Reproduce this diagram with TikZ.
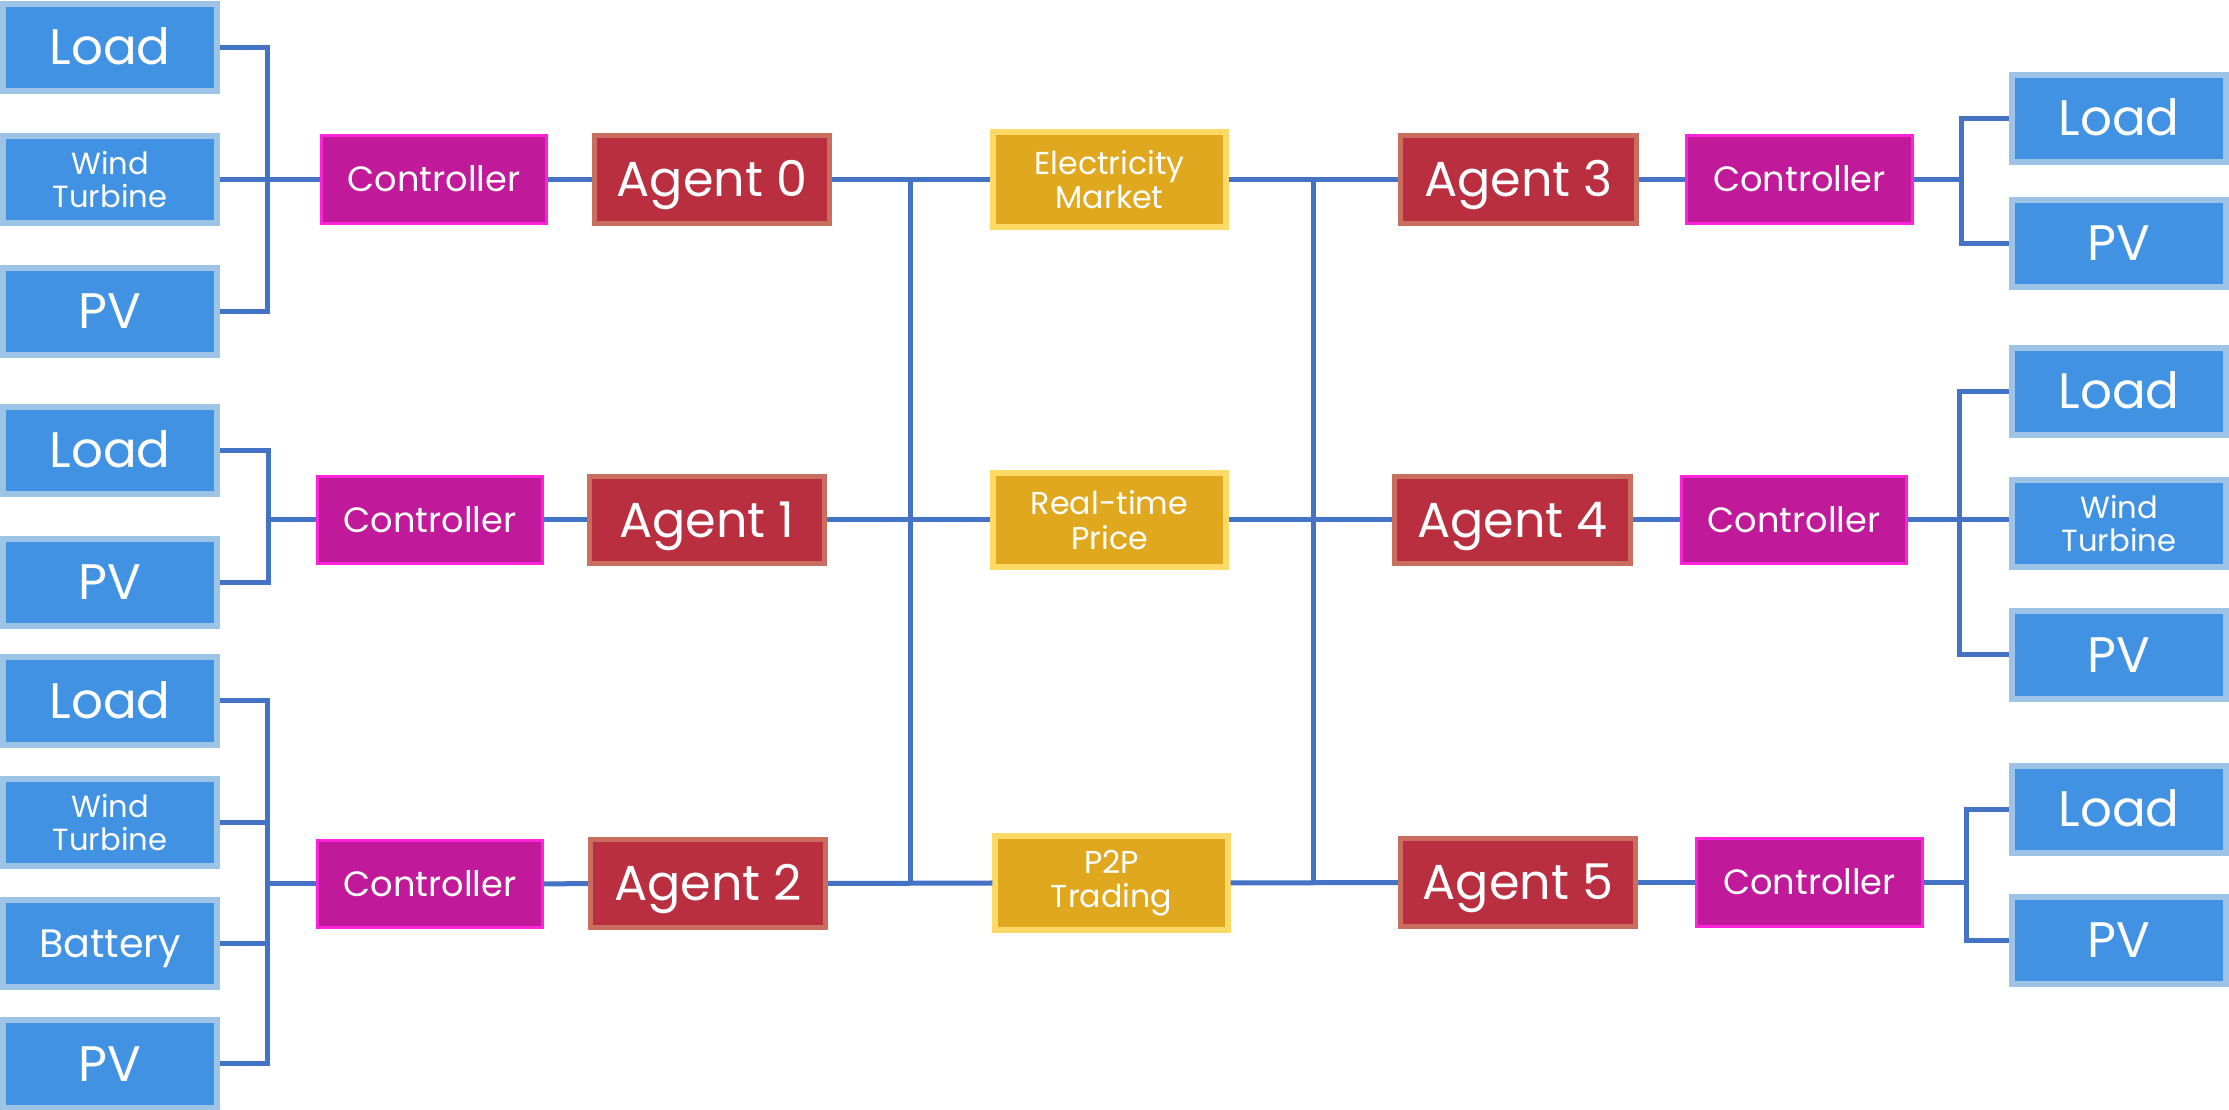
\documentclass[tikz,border=0pt]{standalone}
\usepackage{fontspec}
\setmainfont{Poppins}
\definecolor{blueF}{HTML}{4192E3}
\definecolor{blueB}{HTML}{9DC3E6}
\definecolor{ctrlF}{HTML}{C0199A}
\definecolor{ctrlB}{HTML}{FF22DD}
\definecolor{agF}{HTML}{BA2F40}
\definecolor{agB}{HTML}{C96E5E}
\definecolor{mkF}{HTML}{E0A81E}
\definecolor{mkB}{HTML}{FFD966}
\definecolor{lineC}{HTML}{4472C4}
\begin{document}
\begin{tikzpicture}[x=0.01cm,y=-0.01cm,
  src/.style={draw=blueB,fill=blueF,line width=0.06cm,inner sep=0pt,
    minimum width=2.14cm,minimum height=0.87cm,text=white,align=center,
    font=\fontsize{14.2}{16}\selectfont},
  oneline/.style={text height=9.9pt,text depth=0pt},
  smalltxt/.style={font=\fontsize{8.7}{9.4}\selectfont},
  midtxt/.style={font=\fontsize{11.3}{13}\selectfont,text height=7.9pt,text depth=0pt},
  ctrl/.style={draw=ctrlB,fill=ctrlF,line width=0.03cm,inner sep=0pt,
    minimum width=2.25cm,minimum height=0.87cm,text=white,
    text height=7pt,text depth=0pt,
    font=\fontsize{10}{12}\selectfont},
  agent/.style={draw=agB,fill=agF,line width=0.05cm,inner sep=0pt,
    minimum width=2.35cm,minimum height=0.87cm,text=white,
    text height=9.8pt,text depth=0pt,
    font=\fontsize{14}{16}\selectfont},
  mkt/.style={draw=mkB,fill=mkF,line width=0.06cm,inner sep=0pt,
    minimum width=2.32cm,minimum height=0.94cm,text=white,align=center,
    font=\fontsize{9}{9.8}\selectfont},
  conn/.style={draw=lineC,line width=0.05cm}]
\useasboundingbox (0,0) rectangle (2229,1110);

% ---- left sources ----
\node[src,oneline] (L0) at (110,47.5) {Load};
\node[src,smalltxt] (W0) at (110,179.5) {Wind\\Turbine};
\node[src,oneline] (P0) at (110,311.5) {PV};
\node[src,oneline] (L1) at (110,450.5) {Load};
\node[src,oneline] (P1) at (110,582.5) {PV};
\node[src,oneline] (L2) at (110,701) {Load};
\node[src,smalltxt] (W2) at (110,822.5) {Wind\\Turbine};
\node[src,midtxt] (B2) at (110,943.5) {Battery};
\node[src,oneline] (P2) at (110,1064) {PV};

% ---- right sources ----
\node[src,oneline] (L3) at (2119,118.5) {Load};
\node[src,oneline] (P3) at (2119,243.5) {PV};
\node[src,oneline] (L4) at (2119,391.5) {Load};
\node[src,smalltxt] (W4) at (2119,523.5) {Wind\\Turbine};
\node[src,oneline] (P4) at (2119,655) {PV};
\node[src,oneline] (L5) at (2119,809.5) {Load};
\node[src,oneline] (P5) at (2119,940.5) {PV};

% ---- controllers ----
\node[ctrl] (C0) at (434,179.5) {Controller};
\node[ctrl] (C1) at (430,520) {Controller};
\node[ctrl] (C2) at (430,884) {Controller};
\node[ctrl] (C3) at (1799.5,179.5) {Controller};
\node[ctrl] (C4) at (1794,520) {Controller};
\node[ctrl] (C5) at (1809.5,882.5) {Controller};

% ---- agents ----
\node[agent] (A0) at (712,179.5) {Agent 0};
\node[agent] (A1) at (707,520) {Agent 1};
\node[agent] (A2) at (708,883.5) {Agent 2};
\node[agent] (A3) at (1518.5,179.5) {Agent 3};
\node[agent] (A4) at (1512.5,520) {Agent 4};
\node[agent] (A5) at (1518,882.5) {Agent 5};

% ---- markets ----
\node[mkt] (EM) at (1109.5,179.5) {Electricity\\Market};
\node[mkt] (RP) at (1109.5,520) {Real-time\\Price};
\node[mkt] (PT) at (1111.5,883) {P2P\\Trading};

% ---- bus coordinates ----
\coordinate (b0) at (267,179.5);
\coordinate (b1) at (268,520);
\coordinate (b2) at (267,884);
\coordinate (b3) at (1961,179.5);
\coordinate (b4) at (1959,520);
\coordinate (b5) at (1966,882.5);
\coordinate (cl) at (910,0);
\coordinate (cr) at (1313,0);

% ---- left connectors ----
\draw[conn] (L0.east) -| (b0);
\draw[conn] (P0.east) -| (b0);
\draw[conn] (W0.east) -- (b0) -- (C0.west);
\draw[conn] (L1.east) -| (b1);
\draw[conn] (P1.east) -| (b1);
\draw[conn] (b1) -- (C1.west);
\draw[conn] (L2.east) -| (b2);
\draw[conn] (P2.east) -| (b2);
\draw[conn] (W2.east) -- (W2.east -| b2);
\draw[conn] (B2.east) -- (B2.east -| b2);
\draw[conn] (b2) -- (C2.west);

% ---- right connectors ----
\draw[conn] (C3.east) -- (b3);
\draw[conn] (b3) |- (L3.west);
\draw[conn] (b3) |- (P3.west);
\draw[conn] (C4.east) -- (b4) -- (W4.west |- b4);
\draw[conn] (b4) |- (L4.west);
\draw[conn] (b4) |- (P4.west);
\draw[conn] (C5.east) -- (b5);
\draw[conn] (b5) |- (L5.west);
\draw[conn] (b5) |- (P5.west);

% ---- controller to agent ----
\foreach \i in {0,1,2} {\draw[conn] (C\i.east) -- (A\i.west);}
\foreach \i in {3,4,5} {\draw[conn] (A\i.east) -- (C\i.west);}

% ---- central ----
\draw[conn] (A0.east) -- (EM.west);
\draw[conn] (A1.east) -- (RP.west);
\draw[conn] (A2.east) -- (PT.west);
\draw[conn] (EM.east) -- (A3.west);
\draw[conn] (RP.east) -- (A4.west);
\draw[conn] (PT.east) -- (A5.west);
\draw[conn] (cl |- A0) -- (cl |- A2);
\draw[conn] (cr |- A3) -- (cr |- A5);
\end{tikzpicture}
\end{document}
